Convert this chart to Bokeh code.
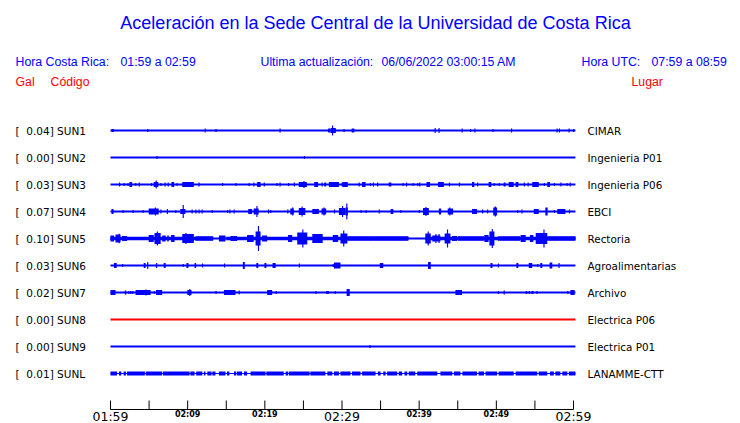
from bokeh.plotting import figure
from bokeh.models import Range1d
from bokeh.core.properties import value
from bokeh.embed import file_html
from bokeh.resources import INLINE

# ---------------- data ----------------
stations = ["SUN1", "SUN2", "SUN3", "SUN4", "SUN5", "SUN6", "SUN7", "SUN8", "SUN9", "SUNL"]
gal = [0.04, 0.00, 0.03, 0.07, 0.10, 0.03, 0.02, 0.00, 0.00, 0.01]
places = ["CIMAR", "Ingenieria P01", "Ingenieria P06", "EBCI", "Rectoria",
          "Agroalimentarias", "Archivo", "Electrica P06", "Electrica P01", "LANAMME-CTT"]

# record span (minutes after 01:59)
trace_start = 0.0
trace_end = 60.25

# background noise half-amplitude of each trace
noise = [1.0, 1.0, 1.0, 1.0, 1.0, 1.0, 1.0, 1.0, 1.0, 0.6]

# events: (start minute, end minute, half amplitude)
sun1 = [(0.13, 0.45, 1.5), (4.75, 4.9, 1.5), (12.2, 12.35, 2), (13.6, 13.75, 1.5), (21.9, 22.05, 2),
        (28.2, 28.45, 2), (28.5, 29.2, 2.5), (28.7, 28.85, 5), (30.2, 30.35, 1.5), (31.25, 31.6, 2),
        (42.0, 42.15, 2.5), (42.5, 42.65, 2.5), (45.5, 45.65, 2), (46.6, 46.75, 1.5), (47.15, 47.3, 2),
        (49.5, 49.65, 1.5), (51.9, 52.05, 2), (57.8, 57.95, 2), (58.1, 58.25, 2), (59.35, 59.5, 2),
        (59.95, 60.1, 1.5)]
sun2 = [(5.95, 6.1, 1.5), (25.05, 25.2, 1.5)]
sun3 = [(1.1, 1.25, 2), (1.7, 1.85, 1.5), (2.2, 2.35, 1.5), (2.45, 2.8, 2.5), (3.2, 3.35, 1.5),
        (3.65, 3.8, 2), (5.25, 5.4, 1.5), (5.6, 6.2, 2.5), (5.85, 6.0, 4), (6.45, 6.6, 1.5),
        (7.0, 7.15, 2), (7.4, 7.55, 2), (7.9, 8.25, 2.5), (8.55, 8.7, 1.5), (9.3, 10.8, 2.5),
        (11.4, 11.55, 2), (14.45, 14.6, 1.5), (16.2, 16.35, 1.5), (17.9, 18.05, 1.5), (18.5, 18.65, 2),
        (19.0, 19.45, 2.5), (19.85, 20.0, 2), (21.5, 21.65, 1.5), (21.9, 22.05, 2), (23.0, 23.15, 1.5),
        (23.75, 23.9, 2), (24.4, 25.45, 2.5), (25.0, 25.15, 3.5), (26.4, 26.9, 2.5), (27.35, 27.5, 2),
        (27.7, 27.95, 2), (28.3, 29.6, 2.5), (29.95, 30.1, 2), (30.05, 30.75, 2.5), (32.15, 32.3, 2),
        (32.6, 33.05, 2.5), (33.6, 33.75, 1.5), (34.0, 34.15, 2), (34.55, 34.7, 2), (36.05, 36.4, 2),
        (37.85, 38.0, 1.5), (38.3, 38.45, 2), (39.15, 39.3, 1.5), (39.75, 39.9, 1.5), (40.0, 40.15, 2),
        (40.95, 41.4, 2.5), (42.45, 43.2, 2.5), (43.85, 44.0, 2), (45.15, 45.3, 2), (46.85, 47.15, 2.5),
        (47.5, 47.65, 2), (49.0, 49.35, 2.5), (49.65, 49.8, 1.5), (50.3, 50.45, 1.5), (50.95, 51.2, 2),
        (51.6, 52.25, 2.5), (52.5, 52.85, 2.5), (53.55, 53.7, 2), (54.05, 54.2, 2), (54.65, 55.5, 2.5),
        (56.15, 56.3, 1.5), (56.6, 56.95, 2.5), (57.45, 57.6, 1.5), (58.3, 58.45, 2), (59.1, 59.25, 1.5),
        (59.5, 59.65, 2)]
sun4 = [(0.13, 0.4, 2.5), (1.55, 1.7, 1.5), (2.85, 3.0, 1.5), (4.15, 4.3, 1.5), (4.95, 6.25, 3),
        (5.75, 5.9, 4), (6.45, 6.6, 2), (7.3, 7.45, 2.5), (8.4, 8.55, 1.5), (9.05, 9.7, 2.5),
        (9.35, 9.5, 6.5), (10.5, 10.65, 2), (11.0, 11.15, 2), (11.4, 11.55, 2), (11.8, 11.95, 2),
        (13.1, 13.25, 1.5), (15.1, 15.25, 1.5), (15.4, 15.55, 2), (15.95, 16.1, 2), (17.85, 18.35, 2.5),
        (18.55, 19.2, 3), (18.9, 19.05, 5.5), (20.4, 20.55, 2), (20.7, 20.85, 1.5), (22.9, 23.05, 2),
        (23.3, 23.75, 3), (23.55, 23.7, 4), (24.4, 25.25, 3.5), (24.75, 24.9, 5), (26.15, 27.0, 2.5),
        (27.35, 27.95, 3), (27.6, 27.75, 4), (28.95, 29.1, 2), (29.6, 30.45, 3.5), (30.0, 30.15, 5.5),
        (30.45, 30.75, 4), (30.55, 30.7, 8), (32.4, 32.55, 1.5), (33.05, 33.2, 1.5), (34.75, 34.9, 2),
        (36.3, 36.65, 2.5), (37.55, 37.7, 1.5), (39.95, 40.1, 1.5), (40.5, 41.25, 3.5), (40.8, 40.95, 4.5),
        (42.55, 42.85, 3), (43.7, 44.4, 3), (43.9, 44.05, 4), (46.85, 47.5, 2.5), (48.15, 48.3, 2),
        (48.8, 48.95, 2), (49.6, 50.1, 4), (49.8, 49.95, 5), (52.7, 52.85, 1.5), (53.25, 53.4, 2),
        (54.85, 55.5, 2.5), (56.35, 56.65, 4), (57.45, 57.6, 1.5), (57.9, 58.95, 2.5), (59.4, 59.55, 2)]
sun5 = [(0.0, 13.3, 1.8), (15.0, 38.6, 1.8), (40.8, 60.25, 1.8),
        (0.0, 0.45, 3), (0.65, 1.3, 4), (1.05, 1.2, 4.7), (1.5, 2.15, 2.5), (4.95, 5.6, 3.5),
        (5.7, 6.5, 5.5), (6.0, 6.15, 7), (6.7, 7.15, 3), (7.35, 7.55, 3), (7.85, 8.3, 3.5),
        (9.3, 10.8, 4.5), (9.7, 9.85, 5.5), (11.0, 13.3, 2.2), (14.05, 14.9, 3), (15.55, 16.4, 2.5),
        (17.7, 18.55, 3.5), (18.8, 19.45, 7), (19.1, 19.25, 12.5), (19.65, 20.3, 3), (23.0, 23.55, 3.5),
        (24.2, 25.5, 6), (24.85, 25.0, 9), (26.15, 27.5, 4.5), (28.8, 29.5, 3.5), (29.8, 30.7, 5),
        (30.15, 30.3, 8), (30.7, 34.1, 2.2), (34.1, 38.6, 2.2), (40.8, 41.5, 5), (41.1, 41.25, 7),
        (41.7, 42.75, 3), (42.1, 42.25, 4.5), (42.5, 42.65, 4.5), (43.3, 44.05, 5), (43.6, 43.75, 9),
        (44.25, 44.9, 2.5), (45.0, 48.4, 2.2), (48.45, 49.0, 3.5), (49.1, 49.75, 7), (49.4, 49.55, 9.5),
        (50.25, 50.4, 2.5), (50.4, 53.1, 2.2), (53.15, 53.8, 3.5), (54.35, 54.8, 3.5), (55.1, 56.6, 5.5),
        (56.1, 56.25, 9), (56.6, 60.25, 2.2)]
sun6 = [(0.45, 0.8, 2.5), (1.5, 1.65, 1.5), (4.3, 4.55, 2.5), (4.75, 4.9, 3.5), (5.9, 6.05, 2.5),
        (6.9, 7.15, 2.5), (9.35, 9.5, 1.5), (9.85, 10.1, 2.5), (10.9, 11.1, 2.5), (11.85, 12.0, 2),
        (14.7, 14.85, 2), (17.15, 17.4, 3.5), (18.9, 19.15, 2.5), (19.95, 20.2, 2.5), (21.0, 21.4, 2.5),
        (24.4, 24.55, 2), (28.8, 28.95, 1.5), (28.95, 29.8, 3), (34.9, 35.35, 2.5), (41.15, 41.5, 3.5),
        (49.25, 49.5, 2.5), (50.2, 50.35, 2), (52.6, 52.85, 2.5), (54.2, 54.65, 2.5), (55.3, 55.45, 1.5),
        (55.7, 55.95, 2.5), (56.9, 57.25, 3), (58.05, 58.2, 2.5)]
sun7 = [(0.0, 0.65, 2.5), (1.85, 2.05, 2), (2.3, 2.45, 1.5), (2.55, 2.7, 1.5), (2.8, 2.95, 1.5),
        (3.25, 5.2, 2.5), (4.5, 4.65, 3), (5.6, 5.75, 1.5), (5.9, 6.7, 2.5), (9.95, 10.5, 2.5),
        (10.2, 10.35, 3.5), (13.6, 13.75, 1.5), (14.7, 16.2, 2.5), (16.6, 16.75, 2), (20.3, 20.95, 2.5),
        (21.4, 21.55, 1.5), (26.55, 26.7, 1.5), (27.95, 28.3, 1.5), (29.05, 29.2, 1.5), (30.6, 31.0, 3.5),
        (44.7, 45.55, 2.5), (50.2, 50.35, 1.5), (50.95, 51.1, 2), (53.8, 54.0, 1.5), (54.2, 54.35, 1.5),
        (54.55, 54.8, 1.5), (55.2, 55.35, 1.5), (59.2, 59.35, 1.5), (59.6, 60.15, 2.5)]
sun8 = []
sun9 = [(33.55, 33.7, 1.5)]
sunl = [(0.0, 0.85, 2), (1.1, 1.4, 2), (1.7, 2.0, 2), (2.15, 4.45, 2), (4.55, 6.7, 2), (6.8, 10.25, 2),
        (10.35, 10.9, 2), (11.1, 11.9, 2), (12.1, 12.3, 2), (12.55, 13.1, 2), (13.2, 13.6, 2),
        (14.05, 14.9, 2), (15.1, 15.4, 2), (16.0, 16.3, 2), (16.4, 17.05, 2), (17.3, 17.7, 2),
        (18.15, 20.1, 2), (20.2, 22.45, 2), (22.7, 23.0, 2), (23.1, 25.8, 2), (25.9, 27.85, 2),
        (28.1, 28.75, 2), (28.95, 29.6, 2), (29.8, 31.1, 2), (31.3, 32.4, 2), (32.6, 34.35, 2),
        (34.65, 35.0, 2), (35.35, 35.65, 2), (35.85, 37.15, 2), (37.35, 37.8, 2), (38.1, 38.45, 2),
        (38.65, 39.5, 2), (39.75, 42.35, 2), (42.75, 44.3, 2), (44.5, 45.35, 2), (45.6, 47.5, 2),
        (47.7, 48.4, 2), (48.6, 50.1, 2), (50.3, 52.25, 2), (52.5, 55.3, 2), (55.5, 56.6, 2),
        (56.95, 57.45, 2), (57.65, 58.3, 2), (58.55, 59.2, 2), (59.4, 60.25, 2)]
events = [sun1, sun2, sun3, sun4, sun5, sun6, sun7, sun8, sun9, sunl]

tick_minutes = [0, 5, 10, 15, 20, 25, 30, 35, 40, 45, 50, 55, 60]
label_minutes = [0, 10, 20, 30, 40, 50, 60]
label_text = ["01:59", "02:09", "02:19", "02:29", "02:39", "02:49", "02:59"]
big_labels = ["01:59", "02:29", "02:59"]

# ---------------- layout ----------------
W, H = 740, 423
PXM = 463 / 60.0          # pixels per minute
X0 = 110                  # canvas x of minute 0


def mx(px):               # canvas x -> minute coordinate
    return (px - X0) / PXM


ROW0, ROWSTEP = 130, 27
AXIS_Y = 409
BLUE, RED = "#0000ff", "#ff0000"
trace_colors = [BLUE] * 7 + [RED] + [BLUE] * 2
NB = "\u00a0"

p = figure(width=W, height=H, output_backend="svg", toolbar_location=None,
           x_range=Range1d(-X0 / PXM, (W - X0) / PXM), y_range=Range1d(H, 0),
           x_axis_type=None, y_axis_type=None, min_border=0,
           min_border_left=0, min_border_right=0, min_border_top=0, min_border_bottom=0)
p.grid.visible = False
p.outline_line_color = None
p.background_fill_color = "white"
p.border_fill_color = "white"

# traces
L, R, T, B, C = [], [], [], [], []
for i, evs in enumerate(events):
    yc = ROW0 + i * ROWSTEP
    L.append(trace_start); R.append(trace_end)
    T.append(yc - noise[i]); B.append(yc + noise[i]); C.append(trace_colors[i])
    for (t0, t1, a) in evs:
        L.append(t0); R.append(t1); T.append(yc - a); B.append(yc + a); C.append(trace_colors[i])
p.quad(left=L, right=R, top=T, bottom=B, fill_color=C, line_color=None)

# station labels
rows_y = [ROW0 + i * ROWSTEP for i in range(len(stations))]
left_txt = ["[" + NB * 2 + "%.2f] %s" % (g, s) for g, s in zip(gal, stations)]
p.text(x=[mx(15)] * len(stations), y=rows_y, text=left_txt, text_font=value("DejaVu Sans"),
       text_font_size="10.5px", text_baseline="middle", text_align="left", text_color="black")
p.text(x=[mx(587)] * len(stations), y=rows_y, text=places, text_font=value("DejaVu Sans"),
       text_font_size="10.4px", text_baseline="middle", text_align="left", text_color="black")

# header
p.text(x=[mx(375)], y=[22], text=["Aceleración en la Sede Central de la Universidad de Costa Rica"],
       text_font=value("Liberation Sans"), text_font_size="18px", text_baseline="middle",
       text_align="center", text_color=BLUE)
hdr_x = [mx(15), mx(120), mx(260), mx(381), mx(581), mx(651)]
hdr_t = ["Hora Costa Rica:", "01:59 a 02:59", "Ultima actualización:", "06/06/2022 03:00:15 AM",
         "Hora UTC:", "07:59 a 08:59"]
p.text(x=hdr_x, y=[61] * len(hdr_t), text=hdr_t, text_font=value("Liberation Sans"),
       text_font_size="12.3px", text_baseline="middle", text_align="left", text_color=BLUE)
p.text(x=[mx(15), mx(50), mx(631)], y=[81] * 3, text=["Gal", "Código", "Lugar"],
       text_font=value("Liberation Sans"), text_font_size="12.3px", text_baseline="middle",
       text_align="left", text_color=RED)

# time axis
p.segment(x0=[tick_minutes[0]], y0=[AXIS_Y], x1=[tick_minutes[-1]], y1=[AXIS_Y], line_color="black", line_width=1.2)
p.segment(x0=tick_minutes, y0=[AXIS_Y - 9] * len(tick_minutes), x1=tick_minutes,
          y1=[AXIS_Y] * len(tick_minutes), line_color="black", line_width=1)
bx = [m for m, t in zip(label_minutes, label_text) if t in big_labels]
bt = [t for t in label_text if t in big_labels]
sx = [m for m, t in zip(label_minutes, label_text) if t not in big_labels]
st = [t for t in label_text if t not in big_labels]
p.text(x=bx, y=[416] * len(bx), text=bt, text_font=value("DejaVu Sans"), text_font_size="12.5px",
       text_baseline="middle", text_align="center", text_color="black")
p.text(x=sx, y=[413.5] * len(sx), text=st, text_font=value("DejaVu Sans"), text_font_size="8px",
       text_font_style="bold", text_baseline="middle", text_align="center", text_color="black")

open("out.html", "w").write(file_html(p, INLINE))
